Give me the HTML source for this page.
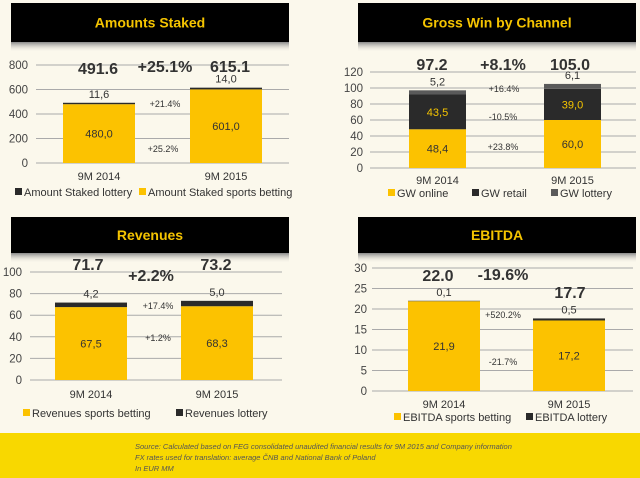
<!DOCTYPE html>
<html><head><meta charset="utf-8">
<style>
body{margin:0;background:#fff;}
svg{display:block;font-family:"Liberation Sans",sans-serif;}
</style></head>
<body>
<svg id="c" width="640" height="478" viewBox="0 0 640 478">
<defs>
<linearGradient id="sh" x1="0" y1="0" x2="0" y2="1"><stop offset="0" stop-color="#888"/><stop offset="1" stop-color="#fbf8ee" stop-opacity="0"/></linearGradient>
</defs>
<rect x="0" y="0" width="640" height="433" fill="#fbf8ec"/>
<rect x="0" y="433" width="640" height="45" fill="#f8d800"/>
<text x="135" y="449" font-size="7.5" font-style="italic" fill="#555">Source: Calculated based on FEG consolidated unaudited financial results for 9M 2015 and Company information</text>
<text x="135" y="460" font-size="7.5" font-style="italic" fill="#555">FX rates used for translation: average ČNB and National Bank of Poland</text>
<text x="135" y="471" font-size="7.5" font-style="italic" fill="#555">In EUR MM</text>
</svg>
<script>
// ---- data ----
const categories = ["9M 2014", "9M 2015"];
const stakedSports = [480.0, 601.0];
const stakedLottery = [11.6, 14.0];
const stakedTotals = ["491.6", "615.1"];
const stakedTicks = [0, 200, 400, 600, 800];
const gwOnline = [48.4, 60.0];
const gwRetail = [43.5, 39.0];
const gwLottery = [5.2, 6.1];
const gwTotals = ["97.2", "105.0"];
const gwTicks = [0, 20, 40, 60, 80, 100, 120];
const revSports = [67.5, 68.3];
const revLottery = [4.2, 5.0];
const revTotals = ["71.7", "73.2"];
const revTicks = [0, 20, 40, 60, 80, 100];
const ebSports = [21.9, 17.2];
const ebLottery = [0.1, 0.5];
const ebTotals = ["22.0", "17.7"];
const ebTicks = [0, 5, 10, 15, 20, 25, 30];
const growthStaked = ["+25.1%", "+21.4%", "+25.2%"];
const growthGw = ["+8.1%", "+16.4%", "-10.5%", "+23.8%"];
const growthRev = ["+2.2%", "+17.4%", "+1.2%"];
const growthEb = ["-19.6%", "+520.2%", "-21.7%"];

const svg = document.getElementById('c');
const NS = 'http://www.w3.org/2000/svg';
function el(tag, attrs, txt) {
  const e = document.createElementNS(NS, tag);
  for (const k in attrs) e.setAttribute(k, attrs[k]);
  if (txt !== undefined) e.textContent = txt;
  svg.appendChild(e);
  return e;
}
const YEL = '#fcc200', DARK = '#2a2a2a', GRAY = '#5a5a5a';
const fmt = v => v.toFixed(1).replace('.', ',');

function panel(p) {
  const sh = el('rect', {x: p.hx, y: p.hy + p.hh, width: p.hw, height: 10, fill: 'url(#sh)'});
  
  
  const h = el('rect', {x: p.hx, y: p.hy, width: p.hw, height: p.hh, fill: '#000'});
  
  
  const t = el('text', {x: p.hx + p.hw / 2, y: p.hy + p.hh / 2 + 5, 'text-anchor': 'middle', 'font-size': 14, 'font-weight': 'bold', fill: '#f5c400'}, p.title);
  
  
  const ticks = p.ticks;
  const max = ticks[ticks.length - 1];
  const y = v => p.yBot - v / max * (p.yBot - p.yTop);
  ticks.forEach(tv => {
    const g = el('line', {x1: p.gx0, x2: p.gx1, y1: y(tv), y2: y(tv), stroke: '#aaa', 'stroke-width': 1});
    
    
    const tl = el('text', {x: p.tickX, y: y(tv) + 4, 'text-anchor': 'end', 'font-size': 11.5, fill: '#444'}, tv);
    
    
  });
  categories.forEach((c, i) => {
    const bx = p.barX[i], bw = p.barW;
    let base = 0;
    p.series.forEach((s, si) => {
      const v = s.data[i];
      const r = el('rect', {x: bx, y: y(base + v), width: bw, height: y(base) - y(base + v), fill: s.color});
      
      
      let ly;
      if (s.above) ly = y(base + v) - 5;
      else ly = (y(base) + y(base + v)) / 2 + 4;
      const lt = el('text', {x: bx + bw / 2, y: ly, 'text-anchor': 'middle', 'font-size': 11, fill: s.labelColor || '#333'}, fmt(v));
      
      
      base += v;
    });
    const cl = el('text', {x: bx + bw / 2, y: p.catY, 'text-anchor': 'middle', 'font-size': 11, fill: '#333'}, c);
    
    
    const tot = el('text', {x: p.totX[i], y: p.totY[i], 'text-anchor': 'middle', 'font-size': 16, 'font-weight': 'bold', fill: '#333'}, p.totals[i]);
    
    
  });
  p.growth.forEach((g, gi) => {
    const pos = p.growthPos[gi];
    const gt = el('text', {x: pos[0], y: pos[1], 'text-anchor': 'middle', 'font-size': gi === 0 ? 16 : 9, 'font-weight': gi === 0 ? 'bold' : 'normal', fill: '#333'}, g);
    
    
  });
  p.legend.forEach(lg => {
    const sq = el('rect', {x: lg.x, y: p.legY - 8, width: 7, height: 7, fill: lg.color});
    
    
    const lt = el('text', {x: lg.x + 9, y: p.legY, 'font-size': 11, fill: '#333'}, lg.text);
    
    
  });
}

panel({id: 'staked', title: 'Amounts Staked', hx: 11, hy: 3, hw: 278, hh: 39,
  ticks: stakedTicks, yTop: 65, yBot: 163, gx0: 36, gx1: 289, tickX: 28,
  barX: [63, 190], barW: 72, catY: 180, totals: stakedTotals,
  series: [{key: 'sports', data: stakedSports, color: YEL}, {key: 'lottery', data: stakedLottery, color: DARK, above: true}],
  totX: [98, 230], totY: [74, 72],
  growth: growthStaked, growthPos: [[165, 72], [165, 107], [163, 152]],
  legY: 196, legend: [{x: 15, color: DARK, text: 'Amount Staked lottery'}, {x: 139, color: YEL, text: 'Amount Staked sports betting'}]});

panel({id: 'grosswin', title: 'Gross Win by Channel', hx: 358, hy: 3, hw: 278, hh: 39,
  ticks: gwTicks, yTop: 72, yBot: 168, gx0: 370, gx1: 636, tickX: 363,
  barX: [409, 544], barW: 57, catY: 184, totals: gwTotals,
  series: [{key: 'online', data: gwOnline, color: YEL}, {key: 'retail', data: gwRetail, color: DARK, labelColor: '#f5c400'}, {key: 'lottery', data: gwLottery, color: GRAY, above: true}],
  totX: [432, 570], totY: [70, 70],
  growth: growthGw, growthPos: [[503, 70], [504, 92], [503, 120], [503, 150]],
  legY: 197, legend: [{x: 388, color: YEL, text: 'GW online'}, {x: 472, color: DARK, text: 'GW retail'}, {x: 551, color: GRAY, text: 'GW lottery'}]});

panel({id: 'revenues', title: 'Revenues', hx: 11, hy: 217, hw: 278, hh: 36,
  ticks: revTicks, yTop: 272, yBot: 380, gx0: 30, gx1: 282, tickX: 22,
  barX: [55, 181], barW: 72, catY: 398, totals: revTotals,
  series: [{key: 'sports', data: revSports, color: YEL}, {key: 'lottery', data: revLottery, color: DARK, above: true}],
  totX: [88, 216], totY: [270, 270],
  growth: growthRev, growthPos: [[151, 281], [158, 309], [158, 341]],
  legY: 417, legend: [{x: 23, color: YEL, text: 'Revenues sports betting'}, {x: 176, color: DARK, text: 'Revenues lottery'}]});

panel({id: 'ebitda', title: 'EBITDA', hx: 358, hy: 217, hw: 278, hh: 36,
  ticks: ebTicks, yTop: 268, yBot: 391, gx0: 372, gx1: 633, tickX: 367,
  barX: [408, 533], barW: 72, catY: 408, totals: ebTotals,
  series: [{key: 'sports', data: ebSports, color: YEL}, {key: 'lottery', data: ebLottery, color: DARK, above: true}],
  totX: [438, 570], totY: [281, 298],
  growth: growthEb, growthPos: [[503, 280], [503, 318], [503, 365]],
  legY: 421, legend: [{x: 394, color: YEL, text: 'EBITDA sports betting'}, {x: 526, color: DARK, text: 'EBITDA lottery'}]});
</script>
</body></html>
